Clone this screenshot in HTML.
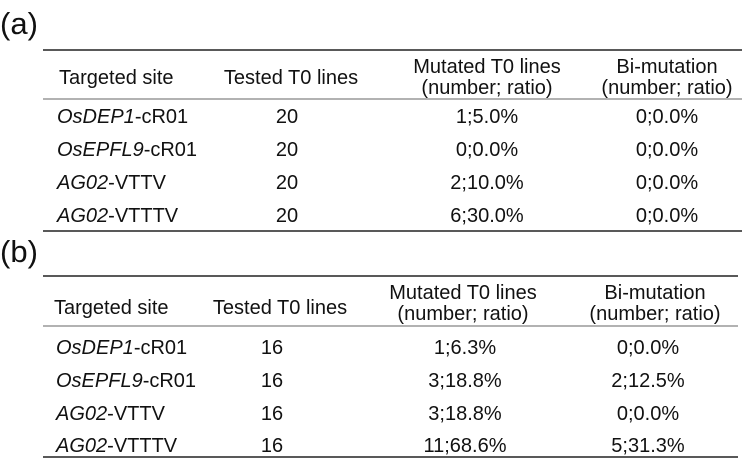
<!DOCTYPE html>
<html><head><style>
body{margin:0;background:#fff;}
svg text{font-family:"Liberation Sans",Arial,sans-serif;fill:#111;font-size:20px;}
.i{font-style:italic}
</style></head><body>
<svg width="750" height="459" viewBox="0 0 750 459" xmlns="http://www.w3.org/2000/svg">
<text x="0" y="34" style="font-size:31px">(a)</text>
<line x1="43" y1="50" x2="742" y2="50" stroke="#222" stroke-width="1.5"/>
<line x1="43" y1="99" x2="742" y2="99" stroke="#666" stroke-width="1"/>
<line x1="43" y1="231" x2="742" y2="231" stroke="#222" stroke-width="1.5"/>
<text x="59" y="84">Targeted site</text>
<text x="291" y="84" text-anchor="middle">Tested T0 lines</text>
<text x="487" y="73" text-anchor="middle">Mutated T0 lines</text>
<text x="487" y="94" text-anchor="middle">(number; ratio)</text>
<text x="667" y="73" text-anchor="middle">Bi-mutation</text>
<text x="667" y="94" text-anchor="middle">(number; ratio)</text>
<text x="57" y="123"><tspan class="i">OsDEP1</tspan>-cR01</text>
<text x="57" y="156"><tspan class="i">OsEPFL9</tspan>-cR01</text>
<text x="57" y="189"><tspan class="i">AG02</tspan>-VTTV</text>
<text x="57" y="222"><tspan class="i">AG02</tspan>-VTTTV</text>
<text x="287" y="123" text-anchor="middle">20</text>
<text x="287" y="156" text-anchor="middle">20</text>
<text x="287" y="189" text-anchor="middle">20</text>
<text x="287" y="222" text-anchor="middle">20</text>
<text x="487" y="123" text-anchor="middle">1;5.0%</text>
<text x="487" y="156" text-anchor="middle">0;0.0%</text>
<text x="487" y="189" text-anchor="middle">2;10.0%</text>
<text x="487" y="222" text-anchor="middle">6;30.0%</text>
<text x="667" y="123" text-anchor="middle">0;0.0%</text>
<text x="667" y="156" text-anchor="middle">0;0.0%</text>
<text x="667" y="189" text-anchor="middle">0;0.0%</text>
<text x="667" y="222" text-anchor="middle">0;0.0%</text>
<text x="0" y="262" style="font-size:31px">(b)</text>
<line x1="43" y1="276" x2="738" y2="276" stroke="#222" stroke-width="1.5"/>
<line x1="43" y1="326" x2="738" y2="326" stroke="#666" stroke-width="1"/>
<line x1="43" y1="457" x2="738" y2="457" stroke="#222" stroke-width="1.5"/>
<text x="54" y="314">Targeted site</text>
<text x="280" y="314" text-anchor="middle">Tested T0 lines</text>
<text x="463" y="299" text-anchor="middle">Mutated T0 lines</text>
<text x="463" y="320" text-anchor="middle">(number; ratio)</text>
<text x="655" y="299" text-anchor="middle">Bi-mutation</text>
<text x="655" y="320" text-anchor="middle">(number; ratio)</text>
<text x="56" y="354"><tspan class="i">OsDEP1</tspan>-cR01</text>
<text x="56" y="387"><tspan class="i">OsEPFL9</tspan>-cR01</text>
<text x="56" y="420"><tspan class="i">AG02</tspan>-VTTV</text>
<text x="56" y="452"><tspan class="i">AG02</tspan>-VTTTV</text>
<text x="272" y="354" text-anchor="middle">16</text>
<text x="272" y="387" text-anchor="middle">16</text>
<text x="272" y="420" text-anchor="middle">16</text>
<text x="272" y="452" text-anchor="middle">16</text>
<text x="465" y="354" text-anchor="middle">1;6.3%</text>
<text x="465" y="387" text-anchor="middle">3;18.8%</text>
<text x="465" y="420" text-anchor="middle">3;18.8%</text>
<text x="465" y="452" text-anchor="middle">11;68.6%</text>
<text x="648" y="354" text-anchor="middle">0;0.0%</text>
<text x="648" y="387" text-anchor="middle">2;12.5%</text>
<text x="648" y="420" text-anchor="middle">0;0.0%</text>
<text x="648" y="452" text-anchor="middle">5;31.3%</text>
</svg>
</body></html>
